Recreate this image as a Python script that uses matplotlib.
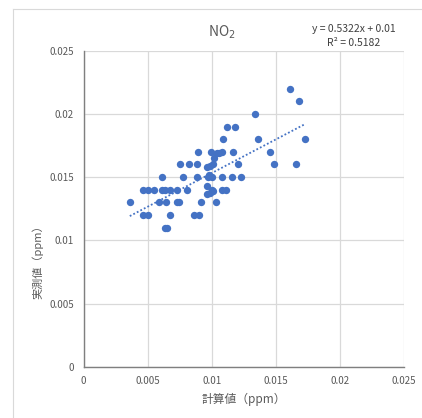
import numpy as np
import matplotlib
matplotlib.use("Agg")
import matplotlib.pyplot as plt
from matplotlib.lines import Line2D

plt.rcParams["font.family"] = ["Noto Sans CJK JP", "DejaVu Sans"]

# calculated (x) vs measured (y) NO2, ppm
calc = [
    0.0036, 0.00465, 0.00502, 0.00548, 0.00615, 0.00634, 0.00677, 0.00732, 0.00803,
    0.00465, 0.00502, 0.00677, 0.0086, 0.0090, 0.00634, 0.0065,
    0.0059, 0.00642, 0.00725, 0.00746, 0.00913, 0.01032,
    0.00615, 0.00778, 0.00881, 0.00967, 0.0098, 0.00998, 0.01076, 0.01159, 0.01225,
    0.00751, 0.00824, 0.00881, 0.01006, 0.00985, 0.00966, 0.01206, 0.01484, 0.0166,
    0.00894, 0.00991, 0.01042, 0.01058, 0.01079, 0.01167, 0.01451, 0.01019,
    0.0109, 0.01364, 0.01728, 0.01119, 0.01183, 0.01335, 0.01613, 0.01682,
    0.0096, 0.00998, 0.01011, 0.0096, 0.00985, 0.01076, 0.01112,
]
meas = [
    0.013, 0.014, 0.014, 0.014, 0.014, 0.014, 0.014, 0.014, 0.01395,
    0.012, 0.012, 0.012, 0.012, 0.012, 0.011, 0.011,
    0.013, 0.013, 0.013, 0.013, 0.013, 0.013,
    0.015, 0.015, 0.015, 0.015, 0.0152, 0.015, 0.015, 0.015, 0.015,
    0.016, 0.016, 0.016, 0.01606, 0.01588, 0.0158, 0.016, 0.016, 0.016,
    0.017, 0.017, 0.0169, 0.0169, 0.017, 0.017, 0.017, 0.01653,
    0.018, 0.018, 0.018, 0.019, 0.019, 0.020, 0.022, 0.021,
    0.01432, 0.014, 0.01389, 0.01363, 0.01374, 0.014, 0.014,
]

# trendline as printed on the chart
slope, intercept = 0.5322, 0.01
r2 = 0.5182

ticks = [0, 0.005, 0.01, 0.015, 0.02, 0.025]
tick_labels = ["0", "0.005", "0.01", "0.015", "0.02", "0.025"]

BLUE = "#4472C4"
GREY_TXT = "#595959"
GRID = "#D9D9D9"

fig = plt.figure(figsize=(4.22, 4.18), dpi=100)
ax = fig.add_axes([0.1983, 0.1227, 0.759, 0.756])

ax.scatter(calc, meas, s=28, color=BLUE, zorder=3, linewidths=0)

xs = np.array([min(calc), max(calc)])
ax.plot(xs, slope * xs + intercept, ls=(0, (1, 1.2)), lw=1.3, color=BLUE, zorder=2)

ax.set_xlim(0, 0.025)
ax.set_ylim(0, 0.025)
ax.set_xticks(ticks)
ax.set_xticklabels(tick_labels)
ax.set_yticks(ticks)
ax.set_yticklabels(tick_labels)
ax.tick_params(length=0, labelsize=7, colors=GREY_TXT, pad=7)
ax.grid(color=GRID, lw=0.9)
ax.set_axisbelow(True)
for side in ["top", "right"]:
    ax.spines[side].set_visible(False)
for side in ["left", "bottom"]:
    ax.spines[side].set_color("#7F7F7F")
    ax.spines[side].set_linewidth(1.0)

ax.set_xlabel("計算値（ppm）", fontsize=8.5, color=GREY_TXT, labelpad=5)
ax.set_ylabel("実測値（ppm）", fontsize=8, color=GREY_TXT)
ax.yaxis.set_label_coords(-0.125, 0.34)

fig.text(222 / 422, 1 - 32 / 418, "NO$_2$", ha="center", va="center",
         fontsize=10, color=GREY_TXT)
fig.text(354 / 422, 1 - 29 / 418, f"y = {slope}x + {intercept}", ha="center",
         va="center", fontsize=7.5, color="#404040")
fig.text(354 / 422, 1 - 43.5 / 418, f"R² = {r2}", ha="center",
         va="center", fontsize=7.5, color="#404040")

# chart area frame (only top and left edges fall inside the image)
fig.add_artist(Line2D([13 / 422, 13 / 422], [0, 1 - 9 / 418],
                      transform=fig.transFigure, color=GRID, lw=0.8))
fig.add_artist(Line2D([13 / 422, 1], [1 - 9 / 418, 1 - 9 / 418],
                      transform=fig.transFigure, color=GRID, lw=0.8))

fig.savefig("out.png", dpi=100)
